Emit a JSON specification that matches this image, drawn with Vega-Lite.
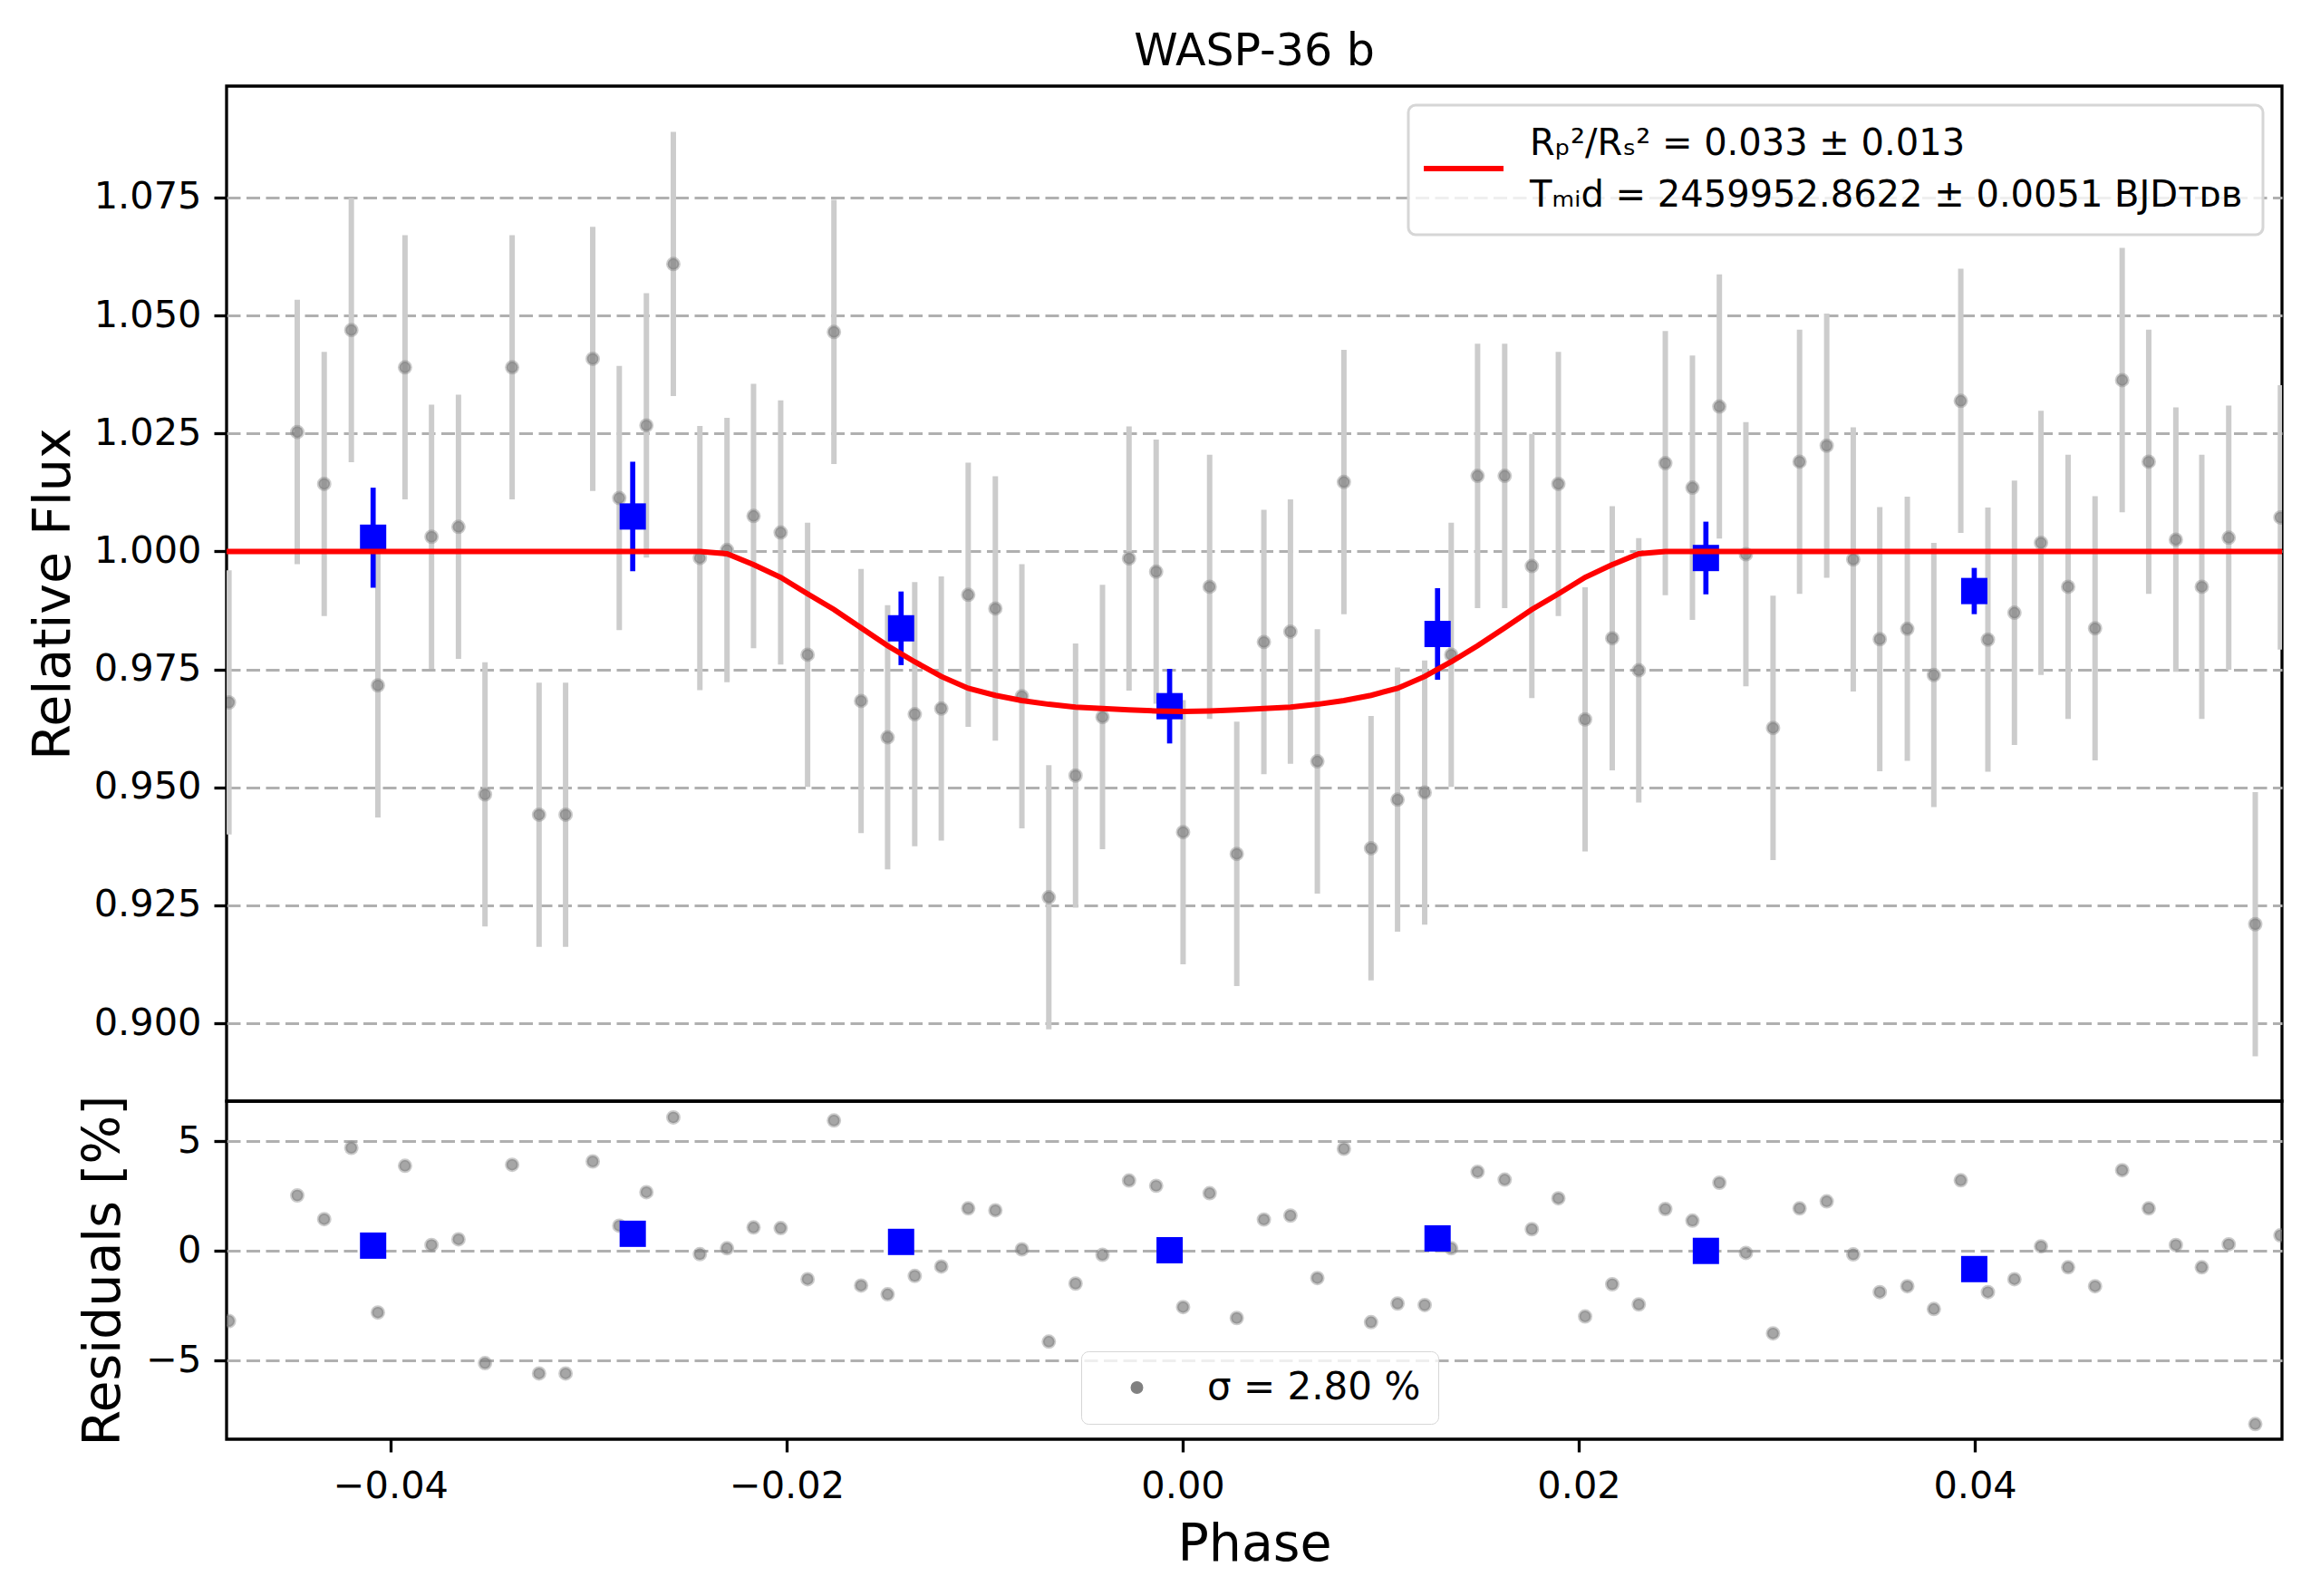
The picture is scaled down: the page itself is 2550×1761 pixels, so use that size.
{
  "$schema": "https://vega.github.io/schema/vega-lite/v6.json",
  "background": "white",
  "padding": {"left": 28, "top": 31, "right": 30, "bottom": 20},
  "config": {
    "font": "DejaVu Sans",
    "view": {"stroke": "#000000", "strokeWidth": 3.3},
    "axis": {
      "labelFont": "DejaVu Sans", "titleFont": "DejaVu Sans",
      "labelFontSize": 41.5, "titleFontSize": 57, "titleFontWeight": "normal",
      "labelColor": "#000000", "titleColor": "#000000",
      "tickColor": "#000000", "tickWidth": 3.3, "tickSize": 14,
      "domain": false,
      "gridColor": "#b0b0b0", "gridWidth": 3, "gridDash": [15, 6.5]
    },
    "legend": {"labelFont": "DejaVu Sans", "labelColor": "#000000"}
  },
  "datasets": {
    "pts": [
      {"phase": -0.04816, "flux": 0.9680, "err": 0.028, "resid": -3.20},
      {"phase": -0.04471, "flux": 1.0253, "err": 0.028, "resid": 2.53},
      {"phase": -0.04335, "flux": 1.0143, "err": 0.028, "resid": 1.45},
      {"phase": -0.04198, "flux": 1.0469, "err": 0.028, "resid": 4.70},
      {"phase": -0.04064, "flux": 0.9716, "err": 0.028, "resid": -2.81},
      {"phase": -0.03927, "flux": 1.0390, "err": 0.028, "resid": 3.88},
      {"phase": -0.03793, "flux": 1.0031, "err": 0.028, "resid": 0.27},
      {"phase": -0.03657, "flux": 1.0052, "err": 0.028, "resid": 0.53},
      {"phase": -0.03523, "flux": 0.9485, "err": 0.028, "resid": -5.12},
      {"phase": -0.03386, "flux": 1.0390, "err": 0.028, "resid": 3.93},
      {"phase": -0.03250, "flux": 0.9442, "err": 0.028, "resid": -5.59},
      {"phase": -0.03116, "flux": 0.9442, "err": 0.028, "resid": -5.59},
      {"phase": -0.02979, "flux": 1.0408, "err": 0.028, "resid": 4.08},
      {"phase": -0.02845, "flux": 1.0113, "err": 0.028, "resid": 1.15},
      {"phase": -0.02708, "flux": 1.0267, "err": 0.028, "resid": 2.68},
      {"phase": -0.02572, "flux": 1.0609, "err": 0.028, "resid": 6.09},
      {"phase": -0.02438, "flux": 0.9986, "err": 0.028, "resid": -0.15},
      {"phase": -0.02301, "flux": 1.0003, "err": 0.028, "resid": 0.12},
      {"phase": -0.02167, "flux": 1.0075, "err": 0.028, "resid": 1.07},
      {"phase": -0.02030, "flux": 1.0040, "err": 0.028, "resid": 1.04},
      {"phase": -0.01894, "flux": 0.9781, "err": 0.028, "resid": -1.29},
      {"phase": -0.01761, "flux": 1.0465, "err": 0.028, "resid": 5.95},
      {"phase": -0.01624, "flux": 0.9683, "err": 0.028, "resid": -1.58},
      {"phase": -0.01490, "flux": 0.9606, "err": 0.028, "resid": -1.98},
      {"phase": -0.01353, "flux": 0.9655, "err": 0.028, "resid": -1.14},
      {"phase": -0.01219, "flux": 0.9667, "err": 0.028, "resid": -0.71},
      {"phase": -0.01083, "flux": 0.9908, "err": 0.028, "resid": 1.94},
      {"phase": -0.00946, "flux": 0.9879, "err": 0.028, "resid": 1.85},
      {"phase": -0.00812, "flux": 0.9693, "err": 0.028, "resid": 0.07},
      {"phase": -0.00676, "flux": 0.9267, "err": 0.028, "resid": -4.14},
      {"phase": -0.00541, "flux": 0.9525, "err": 0.028, "resid": -1.49},
      {"phase": -0.00405, "flux": 0.9649, "err": 0.028, "resid": -0.18},
      {"phase": -0.00271, "flux": 0.9985, "err": 0.028, "resid": 3.21},
      {"phase": -0.00134, "flux": 0.9957, "err": 0.028, "resid": 2.97},
      {"phase": 0.00002, "flux": 0.9405, "err": 0.028, "resid": -2.56},
      {"phase": 0.00136, "flux": 0.9925, "err": 0.028, "resid": 2.63},
      {"phase": 0.00273, "flux": 0.9359, "err": 0.028, "resid": -3.06},
      {"phase": 0.00410, "flux": 0.9808, "err": 0.028, "resid": 1.43},
      {"phase": 0.00544, "flux": 0.9830, "err": 0.028, "resid": 1.61},
      {"phase": 0.00680, "flux": 0.9555, "err": 0.028, "resid": -1.24},
      {"phase": 0.00814, "flux": 1.0147, "err": 0.028, "resid": 4.66},
      {"phase": 0.00951, "flux": 0.9371, "err": 0.028, "resid": -3.25},
      {"phase": 0.01085, "flux": 0.9474, "err": 0.028, "resid": -2.40},
      {"phase": 0.01222, "flux": 0.9489, "err": 0.028, "resid": -2.47},
      {"phase": 0.01356, "flux": 0.9781, "err": 0.028, "resid": 0.12},
      {"phase": 0.01489, "flux": 1.0160, "err": 0.028, "resid": 3.61},
      {"phase": 0.01626, "flux": 1.0160, "err": 0.028, "resid": 3.25},
      {"phase": 0.01763, "flux": 0.9969, "err": 0.028, "resid": 0.99},
      {"phase": 0.01897, "flux": 1.0143, "err": 0.028, "resid": 2.40},
      {"phase": 0.02032, "flux": 0.9644, "err": 0.028, "resid": -2.99},
      {"phase": 0.02169, "flux": 0.9816, "err": 0.028, "resid": -1.52},
      {"phase": 0.02303, "flux": 0.9748, "err": 0.028, "resid": -2.44},
      {"phase": 0.02437, "flux": 1.0187, "err": 0.028, "resid": 1.91},
      {"phase": 0.02574, "flux": 1.0135, "err": 0.028, "resid": 1.38},
      {"phase": 0.02710, "flux": 1.0307, "err": 0.028, "resid": 3.11},
      {"phase": 0.02844, "flux": 0.9994, "err": 0.028, "resid": -0.09},
      {"phase": 0.02981, "flux": 0.9626, "err": 0.028, "resid": -3.76},
      {"phase": 0.03115, "flux": 1.0190, "err": 0.028, "resid": 1.94},
      {"phase": 0.03252, "flux": 1.0224, "err": 0.028, "resid": 2.26},
      {"phase": 0.03386, "flux": 0.9983, "err": 0.028, "resid": -0.16},
      {"phase": 0.03520, "flux": 0.9814, "err": 0.028, "resid": -1.88},
      {"phase": 0.03659, "flux": 0.9836, "err": 0.028, "resid": -1.61},
      {"phase": 0.03793, "flux": 0.9738, "err": 0.028, "resid": -2.65},
      {"phase": 0.03929, "flux": 1.0319, "err": 0.028, "resid": 3.22},
      {"phase": 0.04066, "flux": 0.9813, "err": 0.028, "resid": -1.88},
      {"phase": 0.04200, "flux": 0.9870, "err": 0.028, "resid": -1.29},
      {"phase": 0.04334, "flux": 1.0018, "err": 0.028, "resid": 0.21},
      {"phase": 0.04471, "flux": 0.9925, "err": 0.028, "resid": -0.75},
      {"phase": 0.04607, "flux": 0.9837, "err": 0.028, "resid": -1.61},
      {"phase": 0.04744, "flux": 1.0363, "err": 0.028, "resid": 3.68},
      {"phase": 0.04878, "flux": 1.0190, "err": 0.028, "resid": 1.94},
      {"phase": 0.05015, "flux": 1.0025, "err": 0.028, "resid": 0.27},
      {"phase": 0.05146, "flux": 0.9925, "err": 0.028, "resid": -0.75},
      {"phase": 0.05282, "flux": 1.0029, "err": 0.028, "resid": 0.30},
      {"phase": 0.05416, "flux": 0.9210, "err": 0.028, "resid": -7.90},
      {"phase": 0.05543, "flux": 1.0072, "err": 0.028, "resid": 0.71}
    ],
    "bins": [
      {"phase": -0.04088, "flux": 1.0029, "err": 0.0106, "resid": 0.24},
      {"phase": -0.02777, "flux": 1.0074, "err": 0.0116, "resid": 0.78},
      {"phase": -0.01422, "flux": 0.9837, "err": 0.0078, "resid": 0.41},
      {"phase": -0.00066, "flux": 0.9672, "err": 0.0079, "resid": 0.03},
      {"phase": 0.01287, "flux": 0.9825, "err": 0.0097, "resid": 0.57},
      {"phase": 0.02642, "flux": 0.9986, "err": 0.0077, "resid": 0.00},
      {"phase": 0.03997, "flux": 0.9916, "err": 0.0049, "resid": -0.83}
    ],
    "model": [
      {"phase": -0.04828, "flux": 1.0},
      {"phase": -0.02438, "flux": 1.0},
      {"phase": -0.02301, "flux": 0.9995},
      {"phase": -0.02167, "flux": 0.9972},
      {"phase": -0.02030, "flux": 0.9945},
      {"phase": -0.01894, "flux": 0.9910},
      {"phase": -0.01761, "flux": 0.9877},
      {"phase": -0.01624, "flux": 0.9838},
      {"phase": -0.01490, "flux": 0.9800},
      {"phase": -0.01353, "flux": 0.9766},
      {"phase": -0.01219, "flux": 0.9735},
      {"phase": -0.01083, "flux": 0.9710},
      {"phase": -0.00946, "flux": 0.9695},
      {"phase": -0.00812, "flux": 0.9684},
      {"phase": -0.00676, "flux": 0.9676},
      {"phase": -0.00541, "flux": 0.9670},
      {"phase": -0.00405, "flux": 0.9667},
      {"phase": -0.00271, "flux": 0.9664},
      {"phase": -0.00134, "flux": 0.9662},
      {"phase": 0.00002, "flux": 0.9661},
      {"phase": 0.00136, "flux": 0.9662},
      {"phase": 0.00273, "flux": 0.9664},
      {"phase": 0.00410, "flux": 0.9667},
      {"phase": 0.00544, "flux": 0.9670},
      {"phase": 0.00680, "flux": 0.9676},
      {"phase": 0.00814, "flux": 0.9684},
      {"phase": 0.00951, "flux": 0.9695},
      {"phase": 0.01085, "flux": 0.9710},
      {"phase": 0.01222, "flux": 0.9735},
      {"phase": 0.01356, "flux": 0.9766},
      {"phase": 0.01489, "flux": 0.9800},
      {"phase": 0.01626, "flux": 0.9838},
      {"phase": 0.01763, "flux": 0.9877},
      {"phase": 0.01897, "flux": 0.9910},
      {"phase": 0.02032, "flux": 0.9945},
      {"phase": 0.02169, "flux": 0.9972},
      {"phase": 0.02303, "flux": 0.9995},
      {"phase": 0.02437, "flux": 1.0},
      {"phase": 0.05551, "flux": 1.0}
    ]
  },
  "spacing": 0,
  "bounds": "flush",
  "resolve": {"scale": {"color": "independent"}, "legend": {"color": "independent"}},
  "vconcat": [
    {
      "width": 2268,
      "height": 1120,
      "title": {"text": "WASP-36 b", "fontSize": 49, "fontWeight": "normal", "font": "DejaVu Sans", "color": "#000000", "baseline": "top", "offset": 13, "frame": "group", "anchor": "middle"},
      "encoding": {
        "x": {"field": "phase", "type": "quantitative", "scale": {"domain": [-0.04828, 0.05551], "nice": false, "zero": false}, "axis": null},
        "y": {
          "field": "flux", "type": "quantitative",
          "scale": {"domain": [0.8835, 1.0986], "nice": false, "zero": false},
          "axis": {"title": "Relative Flux", "values": [0.9, 0.925, 0.95, 0.975, 1.0, 1.025, 1.05, 1.075], "format": ".3f", "grid": true, "labelPadding": 14, "titlePadding": 15}
        }
      },
      "layer": [
        {
          "data": {"name": "pts"},
          "mark": {"type": "errorbar", "color": "#cccccc", "thickness": 6, "clip": true},
          "encoding": {"yError": {"field": "err"}}
        },
        {
          "data": {"name": "pts"},
          "mark": {"type": "circle", "size": 156, "opacity": 1, "fill": "#808080", "fillOpacity": 0.7, "stroke": "#808080", "strokeOpacity": 0.4, "strokeWidth": 3.5, "clip": true}
        },
        {
          "data": {"name": "bins"},
          "mark": {"type": "errorbar", "color": "#0000ff", "thickness": 5.7},
          "encoding": {"yError": {"field": "err"}}
        },
        {
          "data": {"name": "bins"},
          "mark": {"type": "square", "size": 841, "color": "#0000ff", "opacity": 1}
        },
        {
          "data": {"name": "model"},
          "mark": {"type": "line", "strokeWidth": 6, "clip": true},
          "encoding": {
            "color": {
              "datum": "model", "type": "nominal",
              "scale": {"range": ["#ff0000"]},
              "legend": {
                "title": null, "orient": "top-right", "offset": 21, "padding": 23,
                "symbolType": "M-1,0L1,0", "symbolSize": 7744, "symbolStrokeWidth": 6, "symbolStrokeColor": "#ff0000", "symbolOffset": -9,
                "labelOffset": 26, "labelFontSize": 40, "labelLimit": 2000, "labelBaseline": "top",
                "labelExpr": "['Rₚ²/Rₛ² = 0.033 ± 0.013', 'Tₘᵢd = 2459952.8622 ± 0.0051 BJDᴛᴅʙ']",
                "strokeColor": "#d6d6d6", "cornerRadius": 8, "fillColor": "rgba(255,255,255,0.8)",
                "encode": {
                  "labels": {"update": {"lineHeight": {"value": 57}, "dy": {"value": -47.4}}},
                  "legend": {"update": {"strokeWidth": {"value": 3}}}
                }
              }
            }
          }
        }
      ]
    },
    {
      "width": 2268,
      "height": 373,
      "encoding": {
        "x": {
          "field": "phase", "type": "quantitative",
          "scale": {"domain": [-0.04828, 0.05551], "nice": false, "zero": false},
          "axis": {"title": "Phase", "values": [-0.04, -0.02, 0, 0.02, 0.04], "format": ".2f", "grid": false, "labelPadding": 17, "titlePadding": 16}
        },
        "y": {
          "field": "resid", "type": "quantitative",
          "scale": {"domain": [-8.59, 6.83], "nice": false, "zero": false},
          "axis": {"title": "Residuals [%]", "values": [-5, 0, 5], "grid": true, "labelPadding": 14, "titlePadding": 17}
        }
      },
      "layer": [
        {
          "data": {"name": "pts"},
          "mark": {"type": "circle", "size": 156, "opacity": 1, "fill": "#808080", "fillOpacity": 0.7, "stroke": "#808080", "strokeOpacity": 0.4, "strokeWidth": 3.5, "clip": true},
          "encoding": {
            "color": {
              "datum": "σ = 2.80 %", "type": "nominal",
              "scale": {"range": ["#808080"]},
              "legend": {
                "title": null, "orient": "none", "legendX": 943, "legendY": 276, "padding": 19,
                "symbolType": "circle", "symbolSize": 156, "symbolOffset": 21.5,
                "labelOffset": 56.5, "labelFontSize": 42, "labelLimit": 1000,
                "strokeColor": "#d6d6d6", "cornerRadius": 8, "fillColor": "rgba(255,255,255,0.8)",
                "encode": {
                  "symbols": {"update": {"fill": {"value": "#808080"}, "fillOpacity": {"value": 0.7}, "stroke": {"value": "#808080"}, "strokeOpacity": {"value": 0.4}, "strokeWidth": {"value": 3.5}, "opacity": {"value": 1}}},
                  "legend": {"update": {"strokeWidth": {"value": 3}}}
                }
              }
            }
          }
        },
        {
          "data": {"name": "bins"},
          "mark": {"type": "square", "size": 841, "color": "#0000ff", "opacity": 1}
        }
      ]
    }
  ]
}
